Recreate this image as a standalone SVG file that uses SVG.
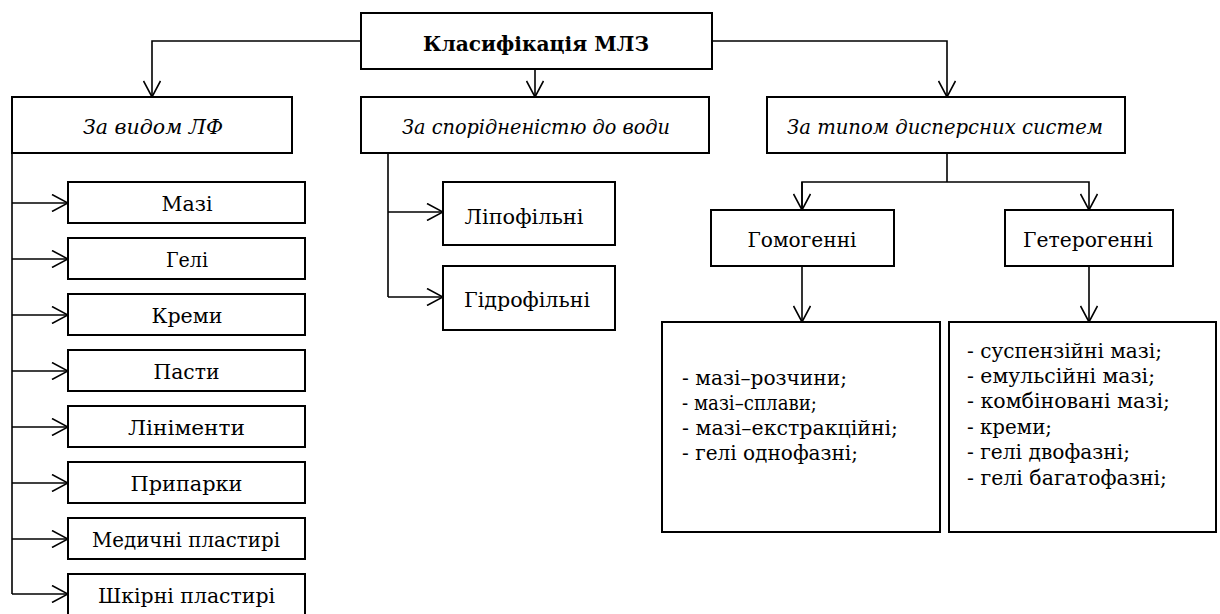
<svg xmlns="http://www.w3.org/2000/svg" width="1220" height="614" viewBox="0 0 1220 614">
<defs>
<style>
.box{fill:#fff;stroke:#000;stroke-width:2}
.t{font-family:"DejaVu Serif","Liberation Serif",serif;font-size:21px;fill:#000;text-anchor:middle}
.ti{font-family:"DejaVu Serif","Liberation Serif",serif;font-size:21px;font-style:italic;fill:#000;text-anchor:middle}
.tb{font-family:"DejaVu Serif","Liberation Serif",serif;font-size:21px;font-weight:bold;fill:#000;text-anchor:middle}
.tl{font-family:"DejaVu Serif","Liberation Serif",serif;font-size:19.5px;fill:#000}
.c{fill:none;stroke:#000;stroke-width:1.6}
</style>
<marker id="arr" markerUnits="userSpaceOnUse" viewBox="0 0 18 18" refX="17" refY="9" markerWidth="18" markerHeight="18" orient="auto">
<path d="M1,0.5 L17,9 L1,17.5" fill="none" stroke="#000" stroke-width="1.6"/>
</marker>
</defs>
<rect width="1220" height="614" fill="#fff"/>

<g id="connectors">
<path class="c" d="M361,41 H152 V97" marker-end="url(#arr)"/>
<path class="c" d="M712,41 H947 V97" marker-end="url(#arr)"/>
<path class="c" d="M535,69 V97" marker-end="url(#arr)"/>
<path class="c" d="M12,153 V594"/>
<path class="c" d="M12,203 H68" marker-end="url(#arr)"/>
<path class="c" d="M12,259 H68" marker-end="url(#arr)"/>
<path class="c" d="M12,315 H68" marker-end="url(#arr)"/>
<path class="c" d="M12,371 H68" marker-end="url(#arr)"/>
<path class="c" d="M12,427 H68" marker-end="url(#arr)"/>
<path class="c" d="M12,483 H68" marker-end="url(#arr)"/>
<path class="c" d="M12,539 H68" marker-end="url(#arr)"/>
<path class="c" d="M12,594 H68" marker-end="url(#arr)"/>
<path class="c" d="M388,153 V297"/>
<path class="c" d="M388,212 H443" marker-end="url(#arr)"/>
<path class="c" d="M388,297 H443" marker-end="url(#arr)"/>
<path class="c" d="M947,153 V182"/>
<path class="c" d="M802,210 V182 H1089 V210" marker-end="url(#arr)"/>
<path class="c" d="M802,182 V210" marker-end="url(#arr)"/>
<path class="c" d="M802,266 V322" marker-end="url(#arr)"/>
<path class="c" d="M1089,266 V322" marker-end="url(#arr)"/>
</g>

<g id="root"><rect class="box" x="361" y="13" width="351" height="56"/><text class="tb" x="536" y="51" textLength="226" lengthAdjust="spacingAndGlyphs">Класифікація МЛЗ</text></g>
<g id="by-form"><rect class="box" x="12" y="97" width="280" height="56"/><text class="ti" x="153" y="134" textLength="140" lengthAdjust="spacingAndGlyphs">За видом ЛФ</text></g>
<g id="by-water"><rect class="box" x="361" y="97" width="348" height="56"/><text class="ti" x="536" y="134" textLength="268" lengthAdjust="spacingAndGlyphs">За спорідненістю до води</text></g>
<g id="by-disperse"><rect class="box" x="767" y="97" width="358" height="56"/><text class="ti" x="945" y="134" textLength="316" lengthAdjust="spacingAndGlyphs">За типом дисперсних систем</text></g>

<g id="mazi"><rect class="box" x="68" y="182" width="237" height="41"/><text class="t" x="187" y="211" textLength="51" lengthAdjust="spacingAndGlyphs">Мазі</text></g>
<g id="geli"><rect class="box" x="68" y="238" width="237" height="41"/><text class="t" x="187" y="267" textLength="42" lengthAdjust="spacingAndGlyphs">Гелі</text></g>
<g id="kremy"><rect class="box" x="68" y="294" width="237" height="41"/><text class="t" x="187" y="323" textLength="71" lengthAdjust="spacingAndGlyphs">Креми</text></g>
<g id="pasty"><rect class="box" x="68" y="350" width="237" height="41"/><text class="t" x="186.5" y="379" textLength="66" lengthAdjust="spacingAndGlyphs">Пасти</text></g>
<g id="linimenty"><rect class="box" x="68" y="406" width="237" height="41"/><text class="t" x="186.5" y="435" textLength="117" lengthAdjust="spacingAndGlyphs">Лініменти</text></g>
<g id="prypary"><rect class="box" x="68" y="462" width="237" height="41"/><text class="t" x="186.5" y="491" textLength="112" lengthAdjust="spacingAndGlyphs">Припарки</text></g>
<g id="med-plast"><rect class="box" x="68" y="518" width="237" height="41"/><text class="t" x="186" y="547" textLength="188" lengthAdjust="spacingAndGlyphs">Медичні пластирі</text></g>
<g id="skin-plast"><rect class="box" x="68" y="574" width="237" height="42"/><text class="t" x="186.5" y="603" textLength="177" lengthAdjust="spacingAndGlyphs">Шкірні пластирі</text></g>

<g id="lipo"><rect class="box" x="443" y="182" width="172" height="63"/><text class="t" x="524" y="224" textLength="119" lengthAdjust="spacingAndGlyphs">Ліпофільні</text></g>
<g id="hydro"><rect class="box" x="443" y="266" width="172" height="64"/><text class="t" x="527" y="307" textLength="126" lengthAdjust="spacingAndGlyphs">Гідрофільні</text></g>

<g id="homo"><rect class="box" x="711" y="210" width="183" height="56"/><text class="t" x="802" y="247" textLength="109" lengthAdjust="spacingAndGlyphs">Гомогенні</text></g>
<g id="hetero"><rect class="box" x="1005" y="210" width="168" height="56"/><text class="t" x="1088" y="247" textLength="130" lengthAdjust="spacingAndGlyphs">Гетерогенні</text></g>

<g id="homo-list"><rect class="box" x="662" y="322" width="278" height="210"/>
<text class="tl" x="682" y="385" textLength="165" lengthAdjust="spacingAndGlyphs">- мазі–розчини;</text>
<text class="tl" x="682" y="410" textLength="135" lengthAdjust="spacingAndGlyphs">- мазі–сплави;</text>
<text class="tl" x="682" y="435" textLength="216" lengthAdjust="spacingAndGlyphs">- мазі–екстракційні;</text>
<text class="tl" x="682" y="460" textLength="176" lengthAdjust="spacingAndGlyphs">- гелі однофазні;</text>
</g>
<g id="hetero-list"><rect class="box" x="949" y="322" width="267" height="210"/>
<text class="tl" x="967" y="358" textLength="195" lengthAdjust="spacingAndGlyphs">- суспензійні мазі;</text>
<text class="tl" x="967" y="383" textLength="188" lengthAdjust="spacingAndGlyphs">- емульсійні мазі;</text>
<text class="tl" x="967" y="408" textLength="203" lengthAdjust="spacingAndGlyphs">- комбіновані мазі;</text>
<text class="tl" x="967" y="434" textLength="85" lengthAdjust="spacingAndGlyphs">- креми;</text>
<text class="tl" x="967" y="459" textLength="163" lengthAdjust="spacingAndGlyphs">- гелі двофазні;</text>
<text class="tl" x="967" y="485" textLength="200" lengthAdjust="spacingAndGlyphs">- гелі багатофазні;</text>
</g>
</svg>
